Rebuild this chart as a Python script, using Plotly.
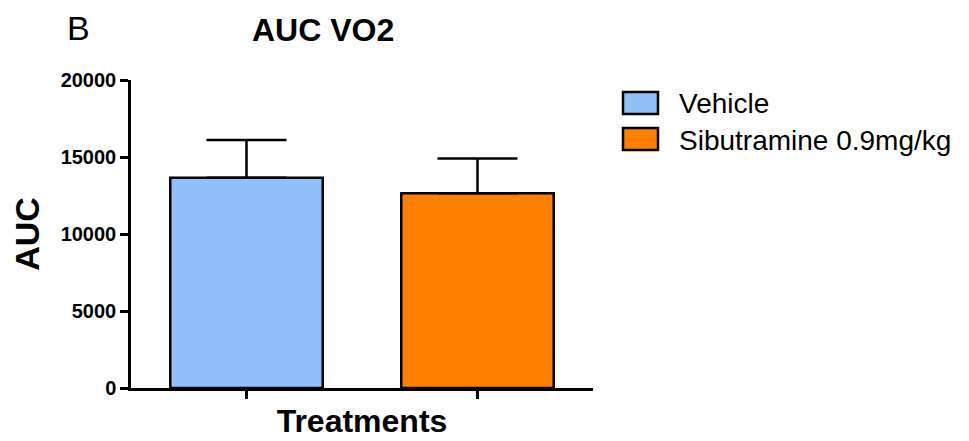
import plotly.graph_objects as go

categories = ["Vehicle", "Sibutramine 0.9mg/kg"]
means = [13650, 12650]
sem = [2450, 2250]
colors = ["#91BFF8", "#FF8000"]
y_ticks = [0, 5000, 10000, 15000, 20000]

W, H = 969, 441
L, R, T, B = 131, 593, 80, 388  # plot area in pixels

def px(x):
    return (x - L) / (R - L)

def py(y):
    return (B - y) / (B - T)

font = "Arial, Liberation Sans, sans-serif"

fig = go.Figure()
fig.add_trace(go.Bar(
    x=categories, y=means,
    marker=dict(color=colors, line=dict(color="black", width=2.5)),
    width=0.66,
    error_y=dict(type="data", array=sem, arrayminus=[0, 0], symmetric=False,
                 color="black", thickness=2.5, width=40),
    showlegend=False,
))

fig.update_layout(
    width=W, height=H,
    margin=dict(l=L, r=W - R, t=T, b=H - B),
    plot_bgcolor="white", paper_bgcolor="white",
    font=dict(family=font, color="black"),
    showlegend=False,
)
fig.update_xaxes(
    range=[-0.5, 1.5], showticklabels=False, ticks="outside", ticklen=8, tickwidth=2.5,
    tickcolor="black", showline=True, linewidth=2.5, linecolor="black", showgrid=False,
    zeroline=False,
    title=dict(text="<b>Treatments</b>", font=dict(size=32, family=font), standoff=12),
)
fig.update_yaxes(
    range=[0, 20000], tickvals=y_ticks, ticktext=[str(v) for v in y_ticks],
    ticks="outside", ticklen=8, tickwidth=2.5, tickcolor="black",
    showline=True, linewidth=2.5, linecolor="black", showgrid=False, zeroline=False,
    tickfont=dict(size=20, family=font, weight="bold"),
    title=dict(text="<b>AUC</b>", font=dict(size=34, family=font), standoff=11),
)

annotations = [
    dict(text="B", x=px(78), y=py(28), xref="paper", yref="paper", showarrow=False,
         font=dict(size=34, family=font), xanchor="center", yanchor="middle"),
    dict(text="<b>AUC VO2</b>", x=px(323), y=py(30), xref="paper", yref="paper", showarrow=False,
         font=dict(size=32, family=font), xanchor="center", yanchor="middle"),
]
box_y = [(92, 114), (128, 150)]
text_y = [103, 140]
for i, name in enumerate(categories):
    fig.add_shape(type="rect", xref="paper", yref="paper",
                  x0=px(623), x1=px(658), y0=py(box_y[i][1]), y1=py(box_y[i][0]),
                  fillcolor=colors[i], line=dict(color="black", width=2.5))
    annotations.append(dict(text=name, x=px(677), y=py(text_y[i]), xref="paper", yref="paper",
                            showarrow=False, font=dict(size=28, family=font),
                            xanchor="left", yanchor="middle"))
fig.update_layout(annotations=annotations)

fig.write_html("out.html")
